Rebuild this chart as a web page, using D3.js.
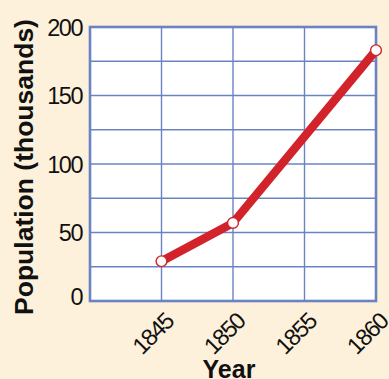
<!DOCTYPE html>
<html>
<head>
<meta charset="utf-8">
<script src="https://cdn.jsdelivr.net/npm/d3@7/dist/d3.min.js"></script>
<style>
  html, body { margin: 0; padding: 0; background: #fdf1db; }
  svg { display: block; }
  text { font-family: "Liberation Sans", Arial, sans-serif; fill: #111; }
</style>
</head>
<body>
<svg id="chart" width="389" height="379"></svg>
<script>
// Population of the territory, in thousands
const years = [1845, 1850, 1860];
const population = [29, 57, 183];
const xTickYears = [1845, 1850, 1855, 1860];
const yTickValues = [0, 50, 100, 150, 200];
const yGridValues = [0, 25, 50, 75, 100, 125, 150, 175, 200];

const W = 389, H = 379;
const margin = { left: 90, top: 27, right: 13, bottom: 78 };
const svg = d3.select("#chart");

const x = d3.scaleLinear().domain([1840, 1860]).range([margin.left, W - margin.right]);
const y = d3.scaleLinear().domain([0, 200]).range([H - margin.bottom, margin.top]);

const gridColor = "#6a83c3";

// plot background
svg.append("rect")
  .attr("x", x(1840)).attr("y", y(200))
  .attr("width", x(1860) - x(1840)).attr("height", y(0) - y(200))
  .attr("fill", "#ffffff");

// grid
const grid = svg.append("g");
grid.selectAll("line.h").data(yGridValues).join("line")
  .attr("x1", x(1840)).attr("x2", x(1860))
  .attr("y1", d => y(d)).attr("y2", d => y(d))
  .attr("stroke", gridColor).attr("stroke-width", 1.4);
grid.selectAll("line.v").data([1840, ...xTickYears]).join("line")
  .attr("x1", d => x(d)).attr("x2", d => x(d))
  .attr("y1", y(0)).attr("y2", y(200))
  .attr("stroke", gridColor).attr("stroke-width", 1.4);

// frame
svg.append("rect")
  .attr("x", x(1840)).attr("y", y(200))
  .attr("width", x(1860) - x(1840)).attr("height", y(0) - y(200))
  .attr("fill", "none").attr("stroke", gridColor).attr("stroke-width", 2.6);

// y axis labels
const yAxis = d3.axisLeft(y).tickValues(yTickValues).tickSize(0).tickPadding(8);
const gy = svg.append("g").attr("transform", `translate(${x(1840)},0)`).call(yAxis);
gy.select(".domain").remove();
gy.selectAll("text")
  .style("font-size", "23.5px")
  .style("letter-spacing", "-1.5px")
  .attr("fill", "#111")
  .attr("dy", d => d === 0 ? "0.15em" : "0.36em");

// x axis labels, rotated
const xAxis = d3.axisBottom(x).tickValues(xTickYears).tickSize(0).tickFormat(d3.format("d"));
const gx = svg.append("g").attr("transform", `translate(0,${y(0)})`).call(xAxis);
gx.select(".domain").remove();
gx.selectAll("text")
  .style("font-size", "23.5px")
  .style("letter-spacing", "-1.5px")
  .attr("fill", "#111")
  .attr("text-anchor", "end")
  .attr("dy", "0")
  .attr("y", 0)
  .attr("transform", "translate(13,22) rotate(-45)");

// axis titles
svg.append("text")
  .attr("x", (x(1840) + x(1860)) / 2 - 4)
  .attr("y", 378)
  .attr("text-anchor", "middle")
  .style("font-size", "25px")
  .style("font-weight", "bold")
  .text("Year");

svg.append("text")
  .attr("transform", `translate(33,${(y(0) + y(200)) / 2 + 3}) rotate(-90)`)
  .attr("text-anchor", "middle")
  .style("font-size", "26.5px")
  .style("font-weight", "bold")
  .text("Population (thousands)");

// population line
const pts = years.map((yr, i) => ({ yr, v: population[i] }));
const line = d3.line().x(d => x(d.yr)).y(d => y(d.v));
svg.append("path")
  .datum(pts)
  .attr("d", line)
  .attr("fill", "none")
  .attr("stroke", "#d2232a")
  .attr("stroke-width", 8.5)
  .attr("stroke-linejoin", "round");

svg.selectAll("circle.pt").data(pts).join("circle")
  .attr("cx", d => x(d.yr)).attr("cy", d => y(d.v))
  .attr("r", 5.4)
  .attr("fill", "#ffffff")
  .attr("stroke", "#d2232a")
  .attr("stroke-width", 1.4);
</script>
</body>
</html>
